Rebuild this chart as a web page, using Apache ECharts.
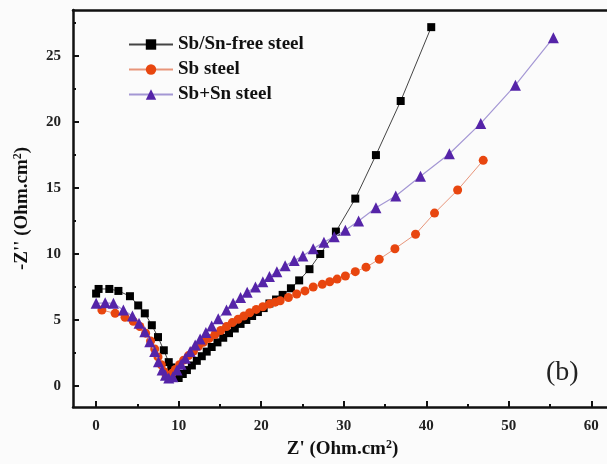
<!DOCTYPE html>
<html><head><meta charset="utf-8">
<script src="https://cdn.jsdelivr.net/npm/echarts@6/dist/echarts.min.js"></script>
<style>html,body{margin:0;padding:0;background:#fbfbfb}#c{width:607px;height:464px}</style>
</head><body><div id="c"></div>
<script>
const seriesNames = ['Sb/Sn-free steel', 'Sb steel', 'Sb+Sn steel'];
const xTickValues = [0, 10, 20, 30, 40, 50, 60];
const xMinorValues = [5, 15, 25, 35, 45, 55];
const yTickValues = [0, 5, 10, 15, 20, 25];
const yMinorValues = [2.5, 7.5, 12.5, 17.5, 22.5, 27.5];

const freeX = [0, 0.3, 1.6, 2.7, 4.1, 5.1, 5.9, 6.75, 7.5, 8.2, 8.8, 9.1, 9.4, 9.7, 10.0, 10.5, 11.0, 11.6, 12.2, 12.8, 13.4, 14.0, 14.7, 15.4, 16.1, 16.8, 17.5, 18.2, 18.9, 19.6, 20.3, 21.0, 21.8, 22.6, 23.6, 24.6, 25.85, 27.15, 29.05, 31.4, 33.9, 36.9, 40.6];
const freeY = [7.0, 7.35, 7.35, 7.2, 6.8, 6.1, 5.5, 4.6, 3.7, 2.7, 1.8, 1.4, 1.05, 0.75, 0.6, 0.9, 1.2, 1.55, 1.9, 2.25, 2.6, 2.95, 3.3, 3.65, 4.0, 4.35, 4.7, 5.0, 5.3, 5.6, 5.9, 6.25, 6.55, 6.9, 7.4, 8.0, 8.85, 10.0, 11.7, 14.2, 17.5, 21.6, 27.2];

const sbX = [0.7, 2.3, 3.5, 4.5, 5.3, 6.0, 6.6, 7.1, 7.5, 7.9, 8.2, 8.5, 8.8, 9.2, 9.6, 10.1, 10.6, 11.2, 11.8, 12.4, 13.0, 13.7, 14.4, 15.1, 15.8, 16.5, 17.2, 17.9, 18.6, 19.4, 20.2, 21.0, 21.7, 22.3, 23.3, 24.3, 25.3, 26.3, 27.4, 28.3, 29.2, 30.2, 31.4, 32.7, 34.3, 36.2, 38.7, 41.0, 43.8, 46.9];
const sbY = [5.75, 5.5, 5.2, 4.9, 4.5, 4.0, 3.4, 2.8, 2.2, 1.6, 1.1, 0.75, 0.7, 0.95, 1.25, 1.6, 1.95, 2.3, 2.65, 3.0, 3.3, 3.6, 3.9, 4.2, 4.5, 4.8, 5.05, 5.3, 5.55, 5.8, 6.0, 6.2, 6.35, 6.46, 6.7, 6.97, 7.2, 7.5, 7.7, 7.9, 8.1, 8.33, 8.66, 9.0, 9.6, 10.4, 11.5, 13.1, 14.85, 17.1];

const snX = [0, 1.1, 2.1, 3.3, 4.4, 5.2, 5.9, 6.5, 7.1, 7.55, 8.0, 8.4, 8.8, 9.3, 9.8, 10.3, 10.8, 11.4, 12.0, 12.6, 13.3, 14.0, 14.8, 15.8, 16.6, 17.5, 18.3, 19.3, 20.2, 21.0, 21.9, 22.9, 24.0, 25.05, 26.3, 27.6, 28.85, 30.2, 31.8, 33.9, 36.3, 39.3, 42.8, 46.6, 50.8, 55.4];
const snY = [6.26, 6.3, 6.26, 5.75, 5.3, 4.75, 4.1, 3.35, 2.6, 1.84, 1.2, 0.8, 0.6, 0.7, 1.2, 1.65, 2.1, 2.6, 3.1, 3.55, 4.05, 4.55, 5.1, 5.75, 6.26, 6.7, 7.1, 7.5, 7.9, 8.3, 8.66, 9.1, 9.5, 9.85, 10.4, 10.9, 11.3, 11.8, 12.5, 13.5, 14.4, 15.9, 17.6, 19.9, 22.8, 26.4];

function pairs(xs, ys) { return xs.map((x, i) => [x, ys[i]]); }

const font = 'Liberation Serif, Times New Roman, serif';
const XMIN = -2.8, XMAX = 62.5, YMIN = -1.6, YMAX = 28.5;
const supRich = { sup: { fontSize: 12, fontWeight: 'bold', fontFamily: font, verticalAlign: 'top', padding: [0, 0, 9, 0], color: '#111' } };
const blank = () => '';
const gridBox = { left: 73, top: 10, right: -5, bottom: 57, outerBoundsMode: 'none', containLabel: false, show: false };

const chart = echarts.init(document.getElementById('c'), null, { renderer: 'canvas' });
chart.setOption({
  backgroundColor: '#fbfbfb',
  animation: false,
  grid: [Object.assign({}, gridBox), Object.assign({}, gridBox)],
  legend: {
    left: 123, top: 30, orient: 'vertical', itemGap: 6, itemWidth: 44, itemHeight: 13,
    textStyle: { fontFamily: font, fontWeight: 'bold', fontSize: 19, color: '#111' },
    data: seriesNames
  },
  xAxis: [{
    gridIndex: 0, type: 'value', min: XMIN, max: XMAX, position: 'bottom',
    name: "Z' (Ohm.cm{sup|2})", nameLocation: 'middle', nameGap: 28,
    nameTextStyle: { fontFamily: font, fontWeight: 'bold', fontSize: 19, color: '#111', rich: supRich },
    axisLine: { onZero: false, lineStyle: { color: '#111', width: 2.5 } },
    axisTick: { inside: true, length: 6, lineStyle: { width: 2, color: '#111' }, customValues: xTickValues },
    axisLabel: { fontFamily: font, fontWeight: 'bold', fontSize: 15, color: '#222', margin: 12, customValues: xTickValues },
    splitLine: { show: false }
  }, {
    gridIndex: 0, type: 'value', min: XMIN, max: XMAX, position: 'top',
    axisLine: { show: true, onZero: false, lineStyle: { color: '#111', width: 2.5 } },
    axisTick: { show: false }, axisLabel: { show: false }, splitLine: { show: false }
  }, {
    gridIndex: 1, type: 'value', min: XMIN, max: XMAX, position: 'bottom',
    axisLine: { show: false, onZero: false },
    axisTick: { show: true, inside: true, length: 3, lineStyle: { width: 2, color: '#111' }, customValues: xMinorValues },
    axisLabel: { show: true, formatter: blank, customValues: xMinorValues }, splitLine: { show: false }
  }],
  yAxis: [{
    gridIndex: 0, type: 'value', min: YMIN, max: YMAX, position: 'left',
    name: "-Z'' (Ohm.cm{sup|2})", nameLocation: 'middle', nameGap: 40, nameRotate: 90,
    nameTextStyle: { fontFamily: font, fontWeight: 'bold', fontSize: 19, color: '#111', rich: supRich },
    axisLine: { onZero: false, lineStyle: { color: '#111', width: 2.5 } },
    axisTick: { inside: true, length: 6, lineStyle: { width: 2, color: '#111' }, customValues: yTickValues },
    axisLabel: { fontFamily: font, fontWeight: 'bold', fontSize: 15, color: '#222', margin: 12, customValues: yTickValues },
    splitLine: { show: false }
  }, {
    gridIndex: 1, type: 'value', min: YMIN, max: YMAX, position: 'left',
    axisLine: { show: false, onZero: false },
    axisTick: { show: true, inside: true, length: 3, lineStyle: { width: 2, color: '#111' }, customValues: yMinorValues },
    axisLabel: { show: true, formatter: blank, customValues: yMinorValues }, splitLine: { show: false }
  }],
  series: [{
    name: seriesNames[0], type: 'line', data: pairs(freeX, freeY), xAxisIndex: 0, yAxisIndex: 0,
    symbol: 'rect', symbolSize: 8, showAllSymbol: true,
    itemStyle: { color: '#000' }, lineStyle: { color: '#444', width: 1 }, z: 2
  }, {
    name: seriesNames[1], type: 'line', data: pairs(sbX, sbY), xAxisIndex: 0, yAxisIndex: 0,
    symbol: 'circle', symbolSize: 9, showAllSymbol: true,
    itemStyle: { color: '#E8460F' }, lineStyle: { color: '#E8957A', width: 1 }, z: 3
  }, {
    name: seriesNames[2], type: 'line', data: pairs(snX, snY), xAxisIndex: 0, yAxisIndex: 0,
    symbol: 'triangle', symbolSize: 11, showAllSymbol: true,
    itemStyle: { color: '#5524A8' }, lineStyle: { color: '#A497D4', width: 1.2 }, z: 4
  }],
  graphic: [{
    type: 'text', left: 546, top: 359,
    style: { text: '(b)', fontFamily: font, fontSize: 28, fill: '#222' }
  }]
});
</script></body></html>
